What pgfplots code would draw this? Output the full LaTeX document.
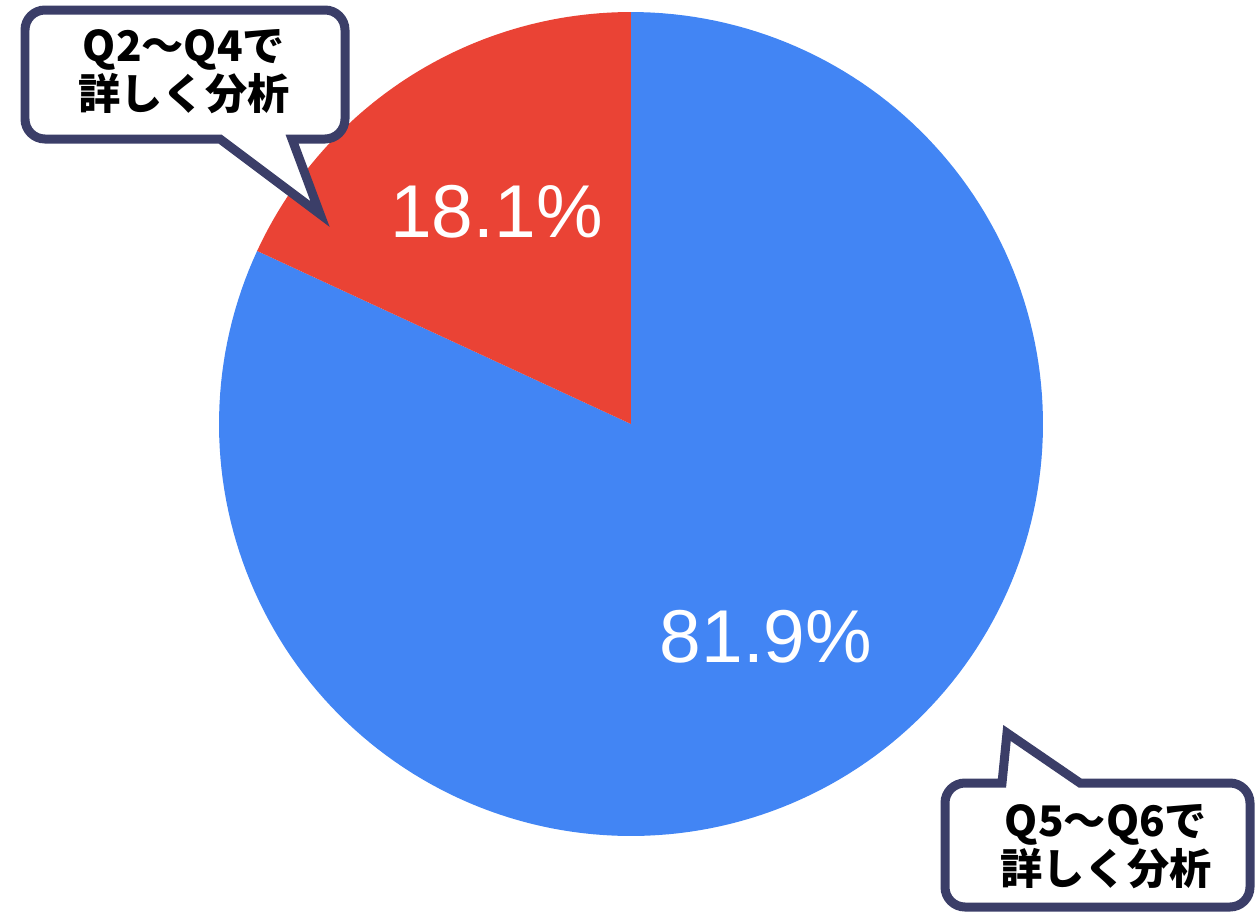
\documentclass[border=0pt]{standalone}
\usepackage{fontspec}
\setmainfont{Liberation Sans}
\newfontfamily\jp{Noto Sans CJK JP}
\usepackage{pgfplots}
\usepgfplotslibrary{polar}
\pgfplotsset{compat=1.18}
\usepackage{pgfplotstable}
\definecolor{pieblue}{RGB}{66,133,244}
\definecolor{piered}{RGB}{234,67,53}
\definecolor{navy}{RGB}{59,62,104}
\pgfplotstableread{
label value
red 18.1
blue 81.9
}\piedata
\pgfplotstablegetelem{0}{value}\of\piedata
\let\redval\pgfplotsretval
\pgfmathsetmacro{\redend}{90+3.6*\redval}
\begin{document}
\begin{tikzpicture}
\useasboundingbox (0,0) rectangle (12.55,-9.12);
\clip (0,0) rectangle (12.55,-9.12);
\begin{polaraxis}[at={(6.31cm,-4.24cm)}, anchor=center, scale only axis,
  width=8.24cm, height=8.24cm, hide axis, xmin=0, xmax=360, ymin=0, ymax=1, clip=false]
\addplot[draw=none, fill=pieblue, domain=\redend:450, samples=200] {1} -- (axis cs:0,0) -- cycle;
\addplot[draw=none, fill=piered, domain=90:\redend, samples=60] {1} -- (axis cs:0,0) -- cycle;
\end{polaraxis}
\node[anchor=base, text=white, font=\fontsize{21.3}{25}\selectfont] at (4.965,-2.37) {18.1\%};
\node[anchor=base, text=white, font=\fontsize{21.3}{25}\selectfont] at (7.66,-6.62) {81.9\%};
% callout 1
\filldraw[fill=white, draw=navy, line width=0.09cm, line join=miter, miter limit=20]
  (2.20,-1.39) -- (3.20,-2.14) -- (2.92,-1.39) -- (3.25,-1.39)
  arc[start angle=-90, end angle=0, radius=0.2] -- (3.45,-0.30)
  arc[start angle=0, end angle=90, radius=0.2] -- (0.45,-0.10)
  arc[start angle=90, end angle=180, radius=0.2] -- (0.25,-1.19)
  arc[start angle=180, end angle=270, radius=0.2] -- cycle;
\node[align=center, font=\jp\bfseries\fontsize{12}{13.7}\selectfont] at (1.84,-0.72) {Q2～Q4で\\詳しく分析};
% callout 2
\filldraw[fill=white, draw=navy, line width=0.09cm, line join=miter, miter limit=20]
  (10.02,-7.83) -- (10.07,-7.33) -- (10.80,-7.83) -- (12.30,-7.83)
  arc[start angle=90, end angle=0, radius=0.2] -- (12.50,-8.87)
  arc[start angle=0, end angle=-90, radius=0.2] -- (9.65,-9.07)
  arc[start angle=270, end angle=180, radius=0.2] -- (9.45,-8.03)
  arc[start angle=180, end angle=90, radius=0.2] -- cycle;
\node[align=center, font=\jp\bfseries\fontsize{12}{13.7}\selectfont] at (11.06,-8.47) {Q5～Q6で\\詳しく分析};
\end{tikzpicture}
\end{document}
